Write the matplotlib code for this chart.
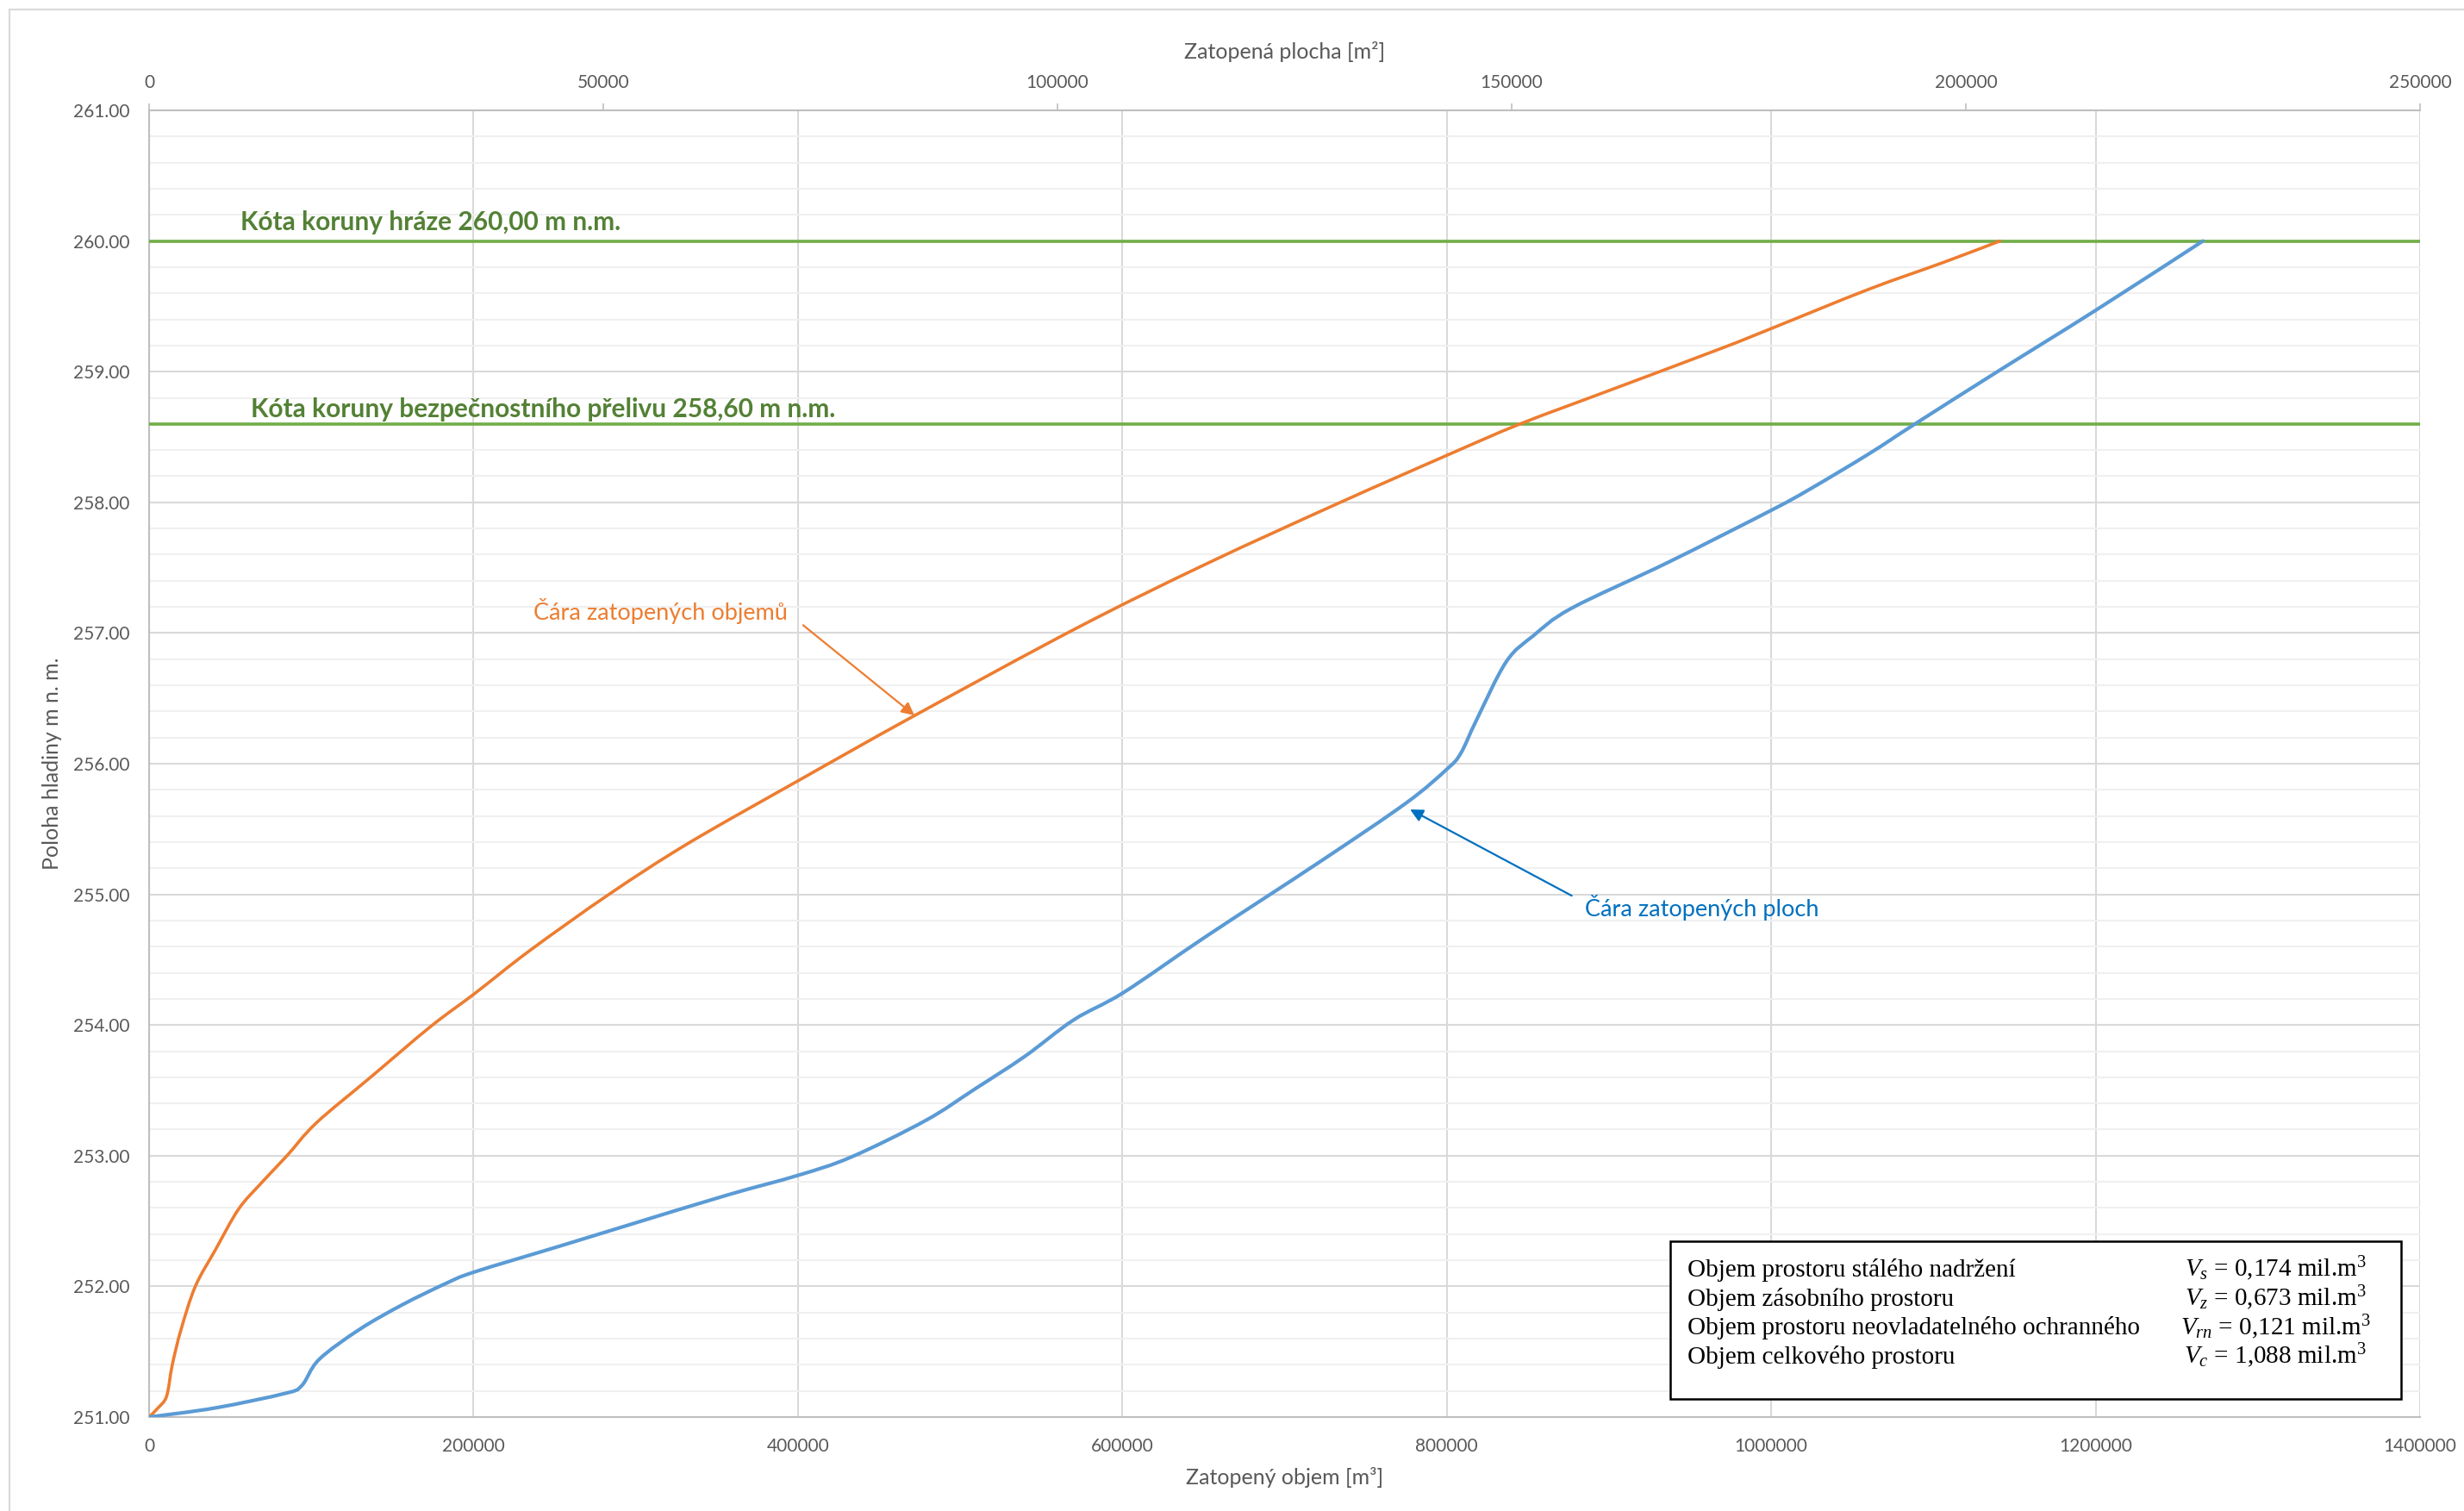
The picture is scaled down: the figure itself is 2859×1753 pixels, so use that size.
import matplotlib
matplotlib.use("Agg")
import numpy as np
import matplotlib.pyplot as plt
from matplotlib.patches import Rectangle, PathPatch
from matplotlib.path import Path
from matplotlib.lines import Line2D
from matplotlib.ticker import MultipleLocator, FixedLocator

# Elevation [m n.m.] vs. flooded volume [m3]
vol_h = [251.00, 251.07, 251.16, 251.40, 251.67, 252.00, 252.28, 252.59, 252.79, 253.00,
         253.25, 253.60, 253.99, 254.24, 254.57, 255.00, 255.39, 255.87, 256.36, 257.04,
         257.53, 257.99, 258.36, 258.60, 258.86, 259.18, 259.33, 259.63, 259.84, 260.00]
vol_m3 = [0, 5500, 10800, 14300, 19700, 28500, 40900, 55100, 69100, 85000,
          103000, 136500, 173700, 200600, 234700, 283500, 332300, 400200, 470700, 572200,
          651900, 732600, 800100, 845200, 901000, 969600, 1000000, 1060000, 1107000, 1141000]

# Elevation [m n.m.] vs. flooded area [m2]
area_h = [251.00, 251.07, 251.18, 251.24, 251.44, 251.67, 251.86, 252.02, 252.11, 252.31,
          252.47, 252.70, 252.85, 252.99, 253.27, 253.51, 253.76, 254.04, 254.25, 254.68,
          255.25, 255.70, 255.96, 256.08, 256.33, 256.78, 256.98, 257.19, 257.54, 257.94,
          258.10, 258.37, 258.60, 259.01, 259.47, 260.00]
area_m2 = [0, 7300, 14900, 16800, 18700, 23150, 27900, 32600, 35800, 45300,
           52800, 63700, 71450, 77300, 85500, 90900, 96400, 101800, 107300, 116400,
           128900, 138400, 142900, 144400, 146100, 149400, 152400, 156600, 167200, 178600,
           182800, 189300, 194400, 203700, 214300, 226100]

dam_crest = 260.00
spillway_crest = 258.60

vol_ticks = [0, 200000, 400000, 600000, 800000, 1000000, 1200000, 1400000]
area_ticks = [0, 50000, 100000, 150000, 200000, 250000]

summary_names = ["Objem prostoru stálého nadržení",
                 "Objem zásobního prostoru",
                 "Objem prostoru neovladatelného ochranného",
                 "Objem celkového prostoru"]
summary_values = [r"$V_{s}$ = 0,174 mil.m$^{3}$",
                  r"$V_{z}$ = 0,673 mil.m$^{3}$",
                  r"$V_{rn}$ = 0,121 mil.m$^{3}$",
                  r"$V_{c}$ = 1,088 mil.m$^{3}$"]

ORANGE = "#ED7D31"
BLUE = "#5B9BD5"
GREEN = "#70AD47"
GREEN_TXT = "#538135"
GRAY_TXT = "#595959"
GRID = "#D9D9D9"
GRID_MINOR = "#F0F0F0"

plt.rcParams["font.family"] = ["Lato", "DejaVu Sans"]
plt.rcParams["mathtext.fontset"] = "custom"
plt.rcParams["mathtext.rm"] = "Liberation Serif"
plt.rcParams["mathtext.it"] = "Liberation Serif:italic"


def smooth_line(axis, xs, ys, **kw):
    """Draw a smoothed (Catmull-Rom style) line through the given points,
    the way spreadsheet 'smoothed line' charts render them."""
    pts = axis.transData.transform(np.column_stack([xs, ys]))
    n = len(pts)
    verts = [pts[0]]
    codes = [Path.MOVETO]
    for i in range(n - 1):
        p0 = pts[max(i - 1, 0)]
        p1 = pts[i]
        p2 = pts[i + 1]
        p3 = pts[min(i + 2, n - 1)]
        c1 = p1 + (p2 - p0) / 6.0
        c2 = p2 - (p3 - p1) / 6.0
        verts += [c1, c2, p2]
        codes += [Path.CURVE4] * 3
    verts = axis.transData.inverted().transform(np.array(verts))
    patch = PathPatch(Path(verts, codes), facecolor="none", transform=axis.transData,
                      capstyle="round", joinstyle="round", **kw)
    axis.add_patch(patch)
    return patch


W, H = 2859, 1753
fig = plt.figure(figsize=(W / 100, H / 100), dpi=100)
fig.patch.set_facecolor("white")

L, R, T, B = 173, 2808, 128, 1644
ax = fig.add_axes([L / W, 1 - B / H, (R - L) / W, (B - T) / H])
ax.set_xlim(0, 1400000)
ax.set_ylim(251, 261)

# grid
ax.yaxis.set_major_locator(MultipleLocator(1.0))
ax.yaxis.set_minor_locator(MultipleLocator(0.2))
ax.xaxis.set_major_locator(FixedLocator(vol_ticks))
ax.grid(which="major", axis="both", color=GRID, lw=1.5, zorder=0)
ax.grid(which="minor", axis="y", color=GRID_MINOR, lw=1.5, zorder=0)
ax.set_axisbelow(True)

ax.set_yticklabels([f"{v:.2f}" for v in ax.get_yticks()])
ax.set_xticklabels([str(v) for v in vol_ticks])
ax.tick_params(axis="both", which="both", length=0, colors=GRAY_TXT, labelsize=15)
ax.tick_params(axis="y", pad=16)
ax.tick_params(axis="x", pad=17)

for s in ["left", "bottom", "top"]:
    ax.spines[s].set_color("#BFBFBF")
    ax.spines[s].set_linewidth(1.5)
ax.spines["right"].set_visible(False)

ax.set_xlabel("Zatopený objem [m³]", fontsize=18, color=GRAY_TXT)
ax.xaxis.set_label_coords(0.5, (B - 1714) / (B - T))
ax.xaxis.label.set_va("center")
ax.set_ylabel("Poloha hladiny m n. m.", fontsize=18, color=GRAY_TXT)
ax.yaxis.set_label_coords((60 - L) / (R - L), 0.5)
ax.yaxis.label.set_va("center")

# secondary (top) axis for flooded area
ax2 = ax.twiny()
ax2.set_xlim(0, 250000)
ax2.set_ylim(251, 261)
ax2.xaxis.set_major_locator(FixedLocator(area_ticks))
ax2.set_xticklabels([str(v) for v in area_ticks])
ax2.tick_params(axis="x", length=6, width=1.2, color="#BFBFBF", labelcolor=GRAY_TXT,
                labelsize=15, pad=10)
for s in ax2.spines.values():
    s.set_visible(False)
ax2.set_xlabel("Zatopená plocha [m²]", fontsize=18, color=GRAY_TXT)
ax2.xaxis.set_label_coords(0.5, (B - 60) / (B - T))
ax2.xaxis.label.set_va("center")

# crest levels
for lvl in (dam_crest, spillway_crest):
    ax.axhline(lvl, color=GREEN, lw=2.6, zorder=3)

ax.text(56300, 260.08, "Kóta koruny hráze 260,00 m n.m.", fontsize=21.5,
        fontweight="bold", color=GREEN_TXT, va="baseline", ha="left", zorder=5)
ax.text(62500, 258.65, "Kóta koruny bezpečnostního přelivu 258,60 m n.m.", fontsize=21.5,
        fontweight="bold", color=GREEN_TXT, va="baseline", ha="left", zorder=5)

# curves
smooth_line(ax, vol_m3, vol_h, edgecolor=ORANGE, lw=2.6, zorder=4)
smooth_line(ax2, area_m2, area_h, edgecolor=BLUE, lw=3.0, zorder=4)

# curve labels
ax.annotate("", xy=(471800, 256.37), xytext=(403200, 257.06),
            arrowprops=dict(arrowstyle="-|>", color=ORANGE, lw=1.6, mutation_scale=22,
                            shrinkA=0, shrinkB=0), zorder=6)
ax.text(237000, 257.10, "Čára zatopených objemů", fontsize=19.5, color=ORANGE,
        va="baseline", ha="left")
ax.annotate("", xy=(777400, 255.65), xytext=(877000, 254.99),
            arrowprops=dict(arrowstyle="-|>", color="#0070C0", lw=1.6, mutation_scale=22,
                            shrinkA=0, shrinkB=0), zorder=6)
ax.text(885200, 254.83, "Čára zatopených ploch", fontsize=19.5, color="#0070C0",
        va="baseline", ha="left")

# summary box
bx0, by0, bx1, by1 = 1938, 1440, 2786, 1623
fig.patches.append(Rectangle((bx0 / W, 1 - by1 / H), (bx1 - bx0) / W, (by1 - by0) / H,
                             transform=fig.transFigure, facecolor="white",
                             edgecolor="black", lw=1.8, zorder=10))
for i, (name, val) in enumerate(zip(summary_names, summary_values)):
    yb = 1481 + i * 33.7
    fig.text(1958 / W, 1 - yb / H, name, fontsize=21, family="Liberation Serif",
             color="black", va="baseline", ha="left", zorder=11)
    fig.text(2640 / W, 1 - yb / H, val, fontsize=21, family="Liberation Serif",
             color="black", va="baseline", ha="center", zorder=11)

# chart frame
fig.add_artist(Line2D([11 / W, 11 / W], [0, 1 - 11 / H], transform=fig.transFigure,
                      color="#D9D9D9", lw=1.5))
fig.add_artist(Line2D([11 / W, 1], [1 - 11 / H, 1 - 11 / H], transform=fig.transFigure,
                      color="#D9D9D9", lw=1.5))

fig.savefig("out.png", dpi=100, facecolor="white")
